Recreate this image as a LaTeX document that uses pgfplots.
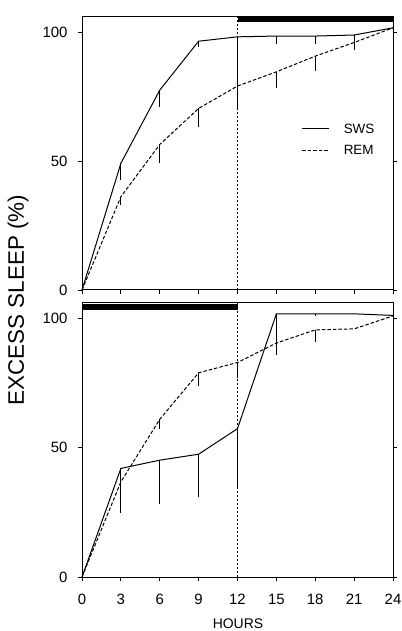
\documentclass[border=0pt]{standalone}
\usepackage{fontspec}
\setmainfont{Liberation Sans}
\usepackage{pgfplots}
\usepackage{pgfplotstable}
\pgfplotsset{compat=1.18}

% hour, cumulative excess sleep (%), lower error
\pgfplotstableread{
h y e
0 0 0
3 49.2 6.5
6 77.6 6.7
9 96.6 2.2
12 98.3 19.0
15 98.6 2.9
18 98.6 2.9
21 99.0 4.0
24 101.8 0
}\topsws
\pgfplotstableread{
h y e
0 0 0
3 36.2 3.2
6 56.5 7.3
9 70.5 7.1
12 79.2 8.7
15 84.7 6.4
18 90.8 5.7
21 96.1 3.0
24 101.8 0
}\toprem
\pgfplotstableread{
h y e
0 0 0
3 42.0 17.4
6 45.2 16.8
9 47.5 16.5
12 57.4 22.4
15 101.8 16.0
18 101.8 1.0
21 101.8 0
24 101.2 0
}\botsws
\pgfplotstableread{
h y e
0 0 0
3 36.8 5.8
6 61.0 3.6
9 79.0 5.0
12 83.0 6.0
15 90.5 0
18 95.6 4.8
21 96.0 0
24 101.0 0
}\botrem

\pgfplotsset{
  sleepaxis/.style={
    scale only axis,
    width=311bp,
    xmin=0, xmax=24, ymin=0, ymax=106,
    xtick={0,3,...,24}, ytick={0,50,100},
    xtick pos=bottom,
    tick align=outside,
    major tick length=4bp,
    axis line style={line width=1bp},
    every tick/.style={line width=0.9bp, black},
    /pgf/number format/assume math mode=true,
    tick label style={font=\fontsize{15}{15}\selectfont},
    xticklabel style={yshift=-10bp},
    yticklabel style={xshift=-7bp},
    clip=false,
  },
  sws/.style={black, line width=1bp, solid,
    error bars/.cd, y dir=minus, y explicit, error mark=none,
    error bar style={line width=0.8bp, solid}},
  rem/.style={black, line width=1bp, dash pattern=on 3.5bp off 2bp,
    error bars/.cd, y dir=minus, y explicit, error mark=none,
    error bar style={line width=0.8bp, solid}},
}

\begin{document}
\begin{tikzpicture}
\path[use as bounding box] (0,0) rectangle (402bp,631bp);

% upper panel
\begin{axis}[sleepaxis,
  at={(82bp,341bp)}, anchor=south west, height=273bp,
  xticklabels={},
  legend cell align=left,
  legend image code/.code={\draw[#1] (0bp,0bp) -- (27bp,0bp);},
  legend style={draw=none, fill=none, inner sep=0pt,
    at={(axis description cs:0.706,0.607)}, anchor=north west,
    font=\fontsize{13.5}{13.5}\selectfont,
    nodes={inner sep=0pt, text height=9bp, text depth=0bp},
    row sep=12.4bp,
    /tikz/every odd column/.append style={column sep=14bp}},
]
\addplot[line width=6bp, forget plot] coordinates {(12,105.2) (24,105.2)};
\addplot[line width=0.6bp, dash pattern=on 2bp off 2bp, forget plot] coordinates {(12,0) (12,106)};
\addplot[sws] table[x=h, y=y, y error=e] {\topsws};
\addlegendentry{SWS}
\addplot[rem] table[x=h, y=y, y error=e] {\toprem};
\addlegendentry{REM}
\end{axis}

% lower panel
\begin{axis}[sleepaxis,
  at={(82bp,54bp)}, anchor=south west, height=274bp,
]
\addplot[line width=6bp, forget plot] coordinates {(0,104.6) (12,104.6)};
\addplot[line width=0.6bp, dash pattern=on 2bp off 2bp, forget plot] coordinates {(12,0) (12,106)};
\addplot[sws] table[x=h, y=y, y error=e] {\botsws};
\addplot[rem] table[x=h, y=y, y error=e] {\botrem};
\end{axis}

\node[rotate=90, font=\fontsize{22.5}{22.5}\selectfont] at (18bp,331bp) {EXCESS SLEEP (\%)};
\node[font=\fontsize{14}{14}\selectfont] at (238bp,7bp) {HOURS};
\end{tikzpicture}
\end{document}
